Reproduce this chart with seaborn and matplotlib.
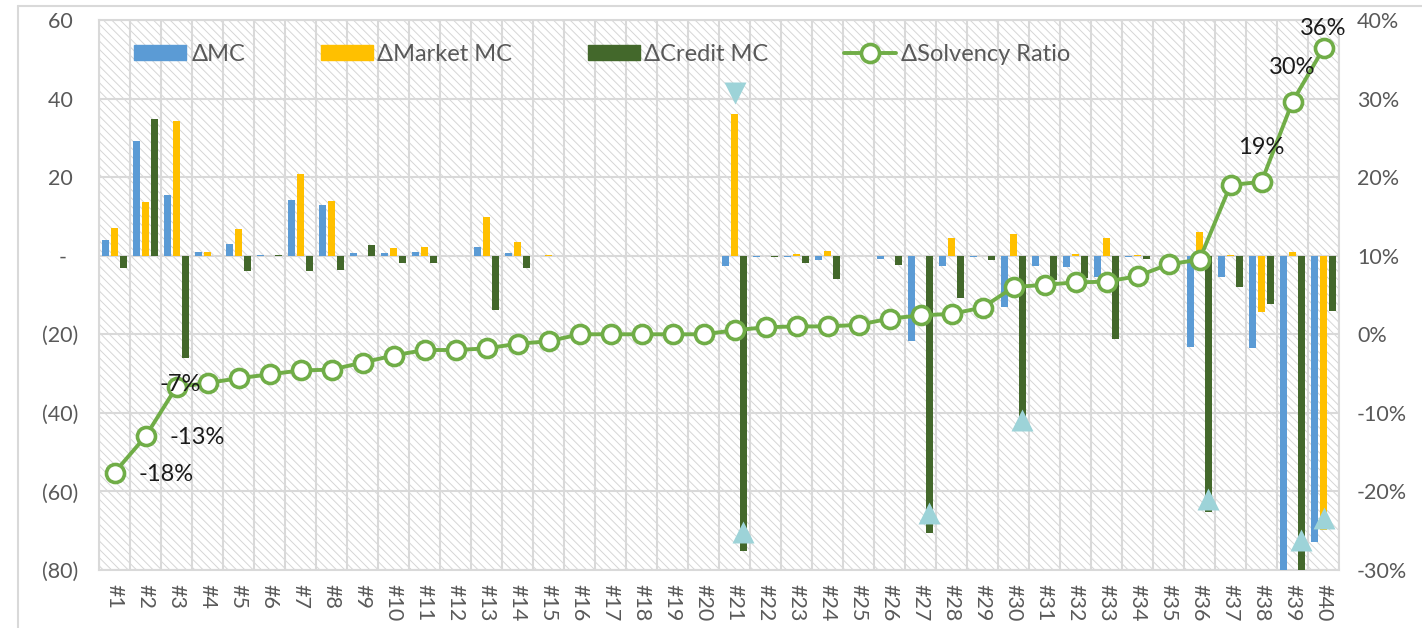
import matplotlib.pyplot as plt
import matplotlib.ticker as mticker
from matplotlib.lines import Line2D
from matplotlib.patches import Patch
import seaborn as sns
import pandas as pd
import numpy as np

# data
cases = ['#%d' % i for i in range(1, 41)]
d_mc = [3.9, 29.3, 15.5, 1.0, 3.0, 0.1, 14.1, 13.0, 0.8, 0.6,
        1.0, 0.0, 2.1, 0.7, 0.0, 0.0, 0.0, 0.0, 0.0, 0.0,
        -2.7, -0.3, -0.4, -1.0, 0.0, -0.8, -21.6, -2.5, -0.2, -13.1,
        -2.7, -2.9, -5.4, -0.2, 0.0, -23.3, -5.4, -23.5, -85.0, -72.8]
d_market = [7.1, 13.8, 34.3, 1.0, 6.9, 0.0, 20.9, 14.0, 0.0, 1.9,
            2.2, 0.0, 9.9, 3.6, 0.2, 0.0, 0.0, 0.0, 0.0, 0.0,
            36.1, 0.0, 0.5, 1.3, 0.0, 0.0, 0.0, 4.5, 0.0, 5.5,
            0.0, 0.5, 4.5, 0.3, 0.0, 6.1, 0.2, -14.4, 1.0, -69.8]
d_credit = [-3.0, 34.9, -26.0, 0.0, -4.0, 0.2, -3.8, -3.6, 2.8, -1.8,
            -1.9, 0.0, -13.7, -3.0, 0.0, 0.0, 0.0, 0.0, 0.0, 0.0,
            -75.1, -0.3, -1.9, -5.9, 0.0, -2.3, -70.5, -10.8, -1.0, -42.0,
            -6.1, -5.7, -21.1, -0.8, 0.0, -65.2, -8.0, -12.2, -90.0, -14.0]
d_solv = [-17.6, -13.0, -6.7, -6.2, -5.6, -5.1, -4.6, -4.5, -3.6, -2.7,
          -2.0, -2.0, -1.8, -1.2, -0.9, 0.0, 0.0, 0.0, 0.0, 0.0,
          0.5, 0.9, 1.0, 1.0, 1.2, 2.0, 2.4, 2.6, 3.4, 6.0,
          6.3, 6.6, 6.7, 7.4, 8.9, 9.5, 19.0, 19.4, 29.6, 36.4]
series = ['ΔMC', 'ΔMarket MC', 'ΔCredit MC']
line_name = 'ΔSolvency Ratio'

# labelled solvency points
lab_cases = ['#1', '#2', '#3', '#38', '#39', '#40']
# triangle flags (left axis values)
up_cases = ['#21', '#27', '#30', '#36', '#39', '#40']
up_series = ['ΔCredit MC', 'ΔCredit MC', 'ΔCredit MC', 'ΔCredit MC', 'ΔCredit MC', 'ΔMarket MC']
up_vals = [-70.2, -65.4, -41.7, -62.0, -72.3, -66.7]
down_cases = ['#21']
down_series = ['ΔMarket MC']
down_vals = [41.5]

colors = ['#5B9BD5', '#FFC000', '#43682B']
green = '#70AD47'
flag_col = '#9DD3D8'
grid_col = '#D9D9D9'
txt_col = '#595959'

sns.set_style('white')
plt.rcParams['font.family'] = ['Lato', 'DejaVu Sans']
plt.rcParams['hatch.linewidth'] = 0.7

df = pd.DataFrame({
    'case': cases * 3,
    'series': np.repeat(series, len(cases)),
    'value': d_mc + d_market + d_credit,
})

fig = plt.figure(figsize=(14.22, 6.28), dpi=100)
ax = fig.add_axes([99 / 1422, 58 / 628, 1240 / 1422, 550 / 628])

ax.patch.set_hatch('\\\\\\\\')
ax.patch.set_edgecolor('#D6D6D6')
ax.patch.set_linewidth(0)

sns.barplot(data=df, x='case', y='value', hue='series', hue_order=series,
            palette=colors, saturation=1, width=0.87, gap=0.22,
            linewidth=0, legend=False, ax=ax, zorder=3)

ax.set_xlim(-0.5, len(cases) - 0.5)
ax.set_ylim(-80, 60)
ax.set_yticks(range(-80, 61, 20))


def acc_fmt(v, pos):
    if v == 0:
        return '-  '
    if v < 0:
        return '(%d)' % abs(v)
    return '%d ' % v


ax.yaxis.set_major_formatter(mticker.FuncFormatter(acc_fmt))
ax.set_xticks(range(len(cases)))
ax.set_xticklabels(cases, rotation=270, ha='center', va='top')
ax.set_xticks(np.arange(-0.5, len(cases)), minor=True)
ax.tick_params(axis='x', which='both', length=0, pad=10, labelsize=15.5, labelcolor=txt_col)
ax.tick_params(axis='y', length=0, pad=15, labelsize=15.5, labelcolor=txt_col)
ax.grid(axis='y', which='major', color=grid_col, lw=1.5, zorder=1)
ax.grid(axis='x', which='minor', color=grid_col, lw=1.5, zorder=1)
ax.grid(axis='x', which='major', visible=False)
ax.set_axisbelow(True)
ax.set_xlabel('')
ax.set_ylabel('')
for sp in ax.spines.values():
    sp.set_color(grid_col)
    sp.set_linewidth(1.5)


# bar centres from the drawn patches
def bar_x(case, name):
    bar = ax.containers[series.index(name)][cases.index(case)]
    return bar.get_x() + bar.get_width() / 2


ax.scatter([bar_x(c, s) for c, s in zip(up_cases, up_series)], up_vals,
           marker='^', s=250, color=flag_col, linewidths=0, zorder=5)
ax.scatter([bar_x(c, s) for c, s in zip(down_cases, down_series)], down_vals,
           marker='v', s=250, color=flag_col, linewidths=0, zorder=5)

# solvency ratio on the right axis
ax2 = ax.twinx()
sns.lineplot(x=cases, y=d_solv, sort=False, ax=ax2, color=green, linewidth=2.8,
             marker='o', markersize=13, markerfacecolor='white',
             markeredgecolor=green, markeredgewidth=2.6, zorder=4)
ax2.set_ylim(-30, 40)
ax2.set_yticks(range(-30, 41, 10))
ax2.yaxis.set_major_formatter(mticker.FuncFormatter(lambda v, p: '%d%%' % v))
ax2.tick_params(axis='y', length=0, pad=13, labelsize=15.5, labelcolor=txt_col)
ax2.grid(False)
for sp in ax2.spines.values():
    sp.set_visible(False)

lab_offsets = {'#1': (17, -1.5, 'left'), '#2': (17.5, -0.5, 'left'), '#3': (2.8, 1.4, 'center'),
               '#38': (0, 24.5, 'center'), '#39': (0, 24.8, 'center'), '#40': (0, 14.5, 'center')}
for c in lab_cases:
    i = cases.index(c)
    dx, dy, ha = lab_offsets[c]
    ax2.annotate('%.0f%%' % d_solv[i], (i, d_solv[i]), xytext=(dx, dy),
                 textcoords='offset points', ha=ha, va='center',
                 fontsize=17, color='#1a1a1a', zorder=6)

handles = [Patch(color=c, label=s) for c, s in zip(colors, series)]
handles.append(Line2D([], [], color=green, lw=2.8, marker='o', markersize=13,
                      markerfacecolor='white', markeredgecolor=green,
                      markeredgewidth=2.6, label=line_name))
ax2.legend(handles=handles, loc='center left', bbox_to_anchor=(0.021, 0.938),
           ncol=4, frameon=False, fontsize=17, labelcolor=txt_col,
           handlelength=2.2, handleheight=0.6, handletextpad=0.2,
           columnspacing=3.2, borderaxespad=0)

# outer chart border
fig.add_artist(Line2D([18 / 1422, 18 / 1422], [0, 1 - 6 / 628], color=grid_col, lw=1.5))
fig.add_artist(Line2D([18 / 1422, 1], [1 - 6 / 628, 1 - 6 / 628], color=grid_col, lw=1.5))

fig.savefig('out.png', dpi=100)
